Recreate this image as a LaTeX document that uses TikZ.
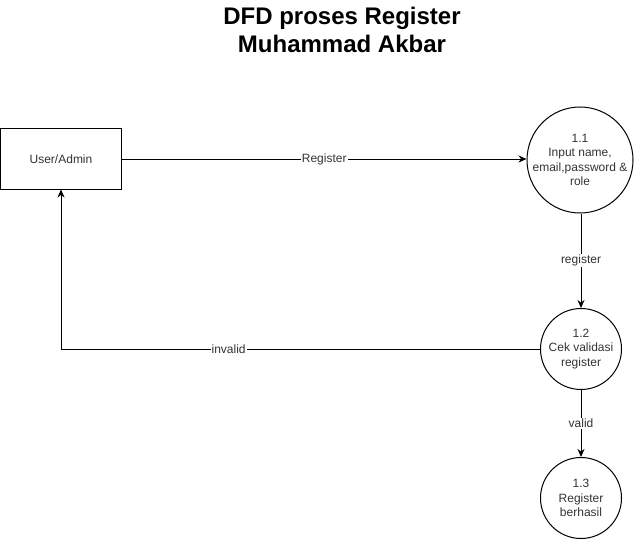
\documentclass[tikz,border=0pt]{standalone}
\usepackage{fontspec}
\setmainfont{Liberation Sans}
\usetikzlibrary{arrows.meta}

\begin{document}
\begin{tikzpicture}[
    x=1pt, y=-1pt,
    every node/.style={font=\fontsize{12}{14.5}\selectfont, text=black!80},
    entity/.style={draw, line width=1pt, minimum width=121pt, minimum height=60pt},
    process/.style={draw, circle, line width=1pt, inner sep=0pt},
    flow/.style={line width=1pt, -{Stealth[length=8pt,width=7pt]}},
    flowlabel/.style={fill=white, inner sep=1pt},
    ]
    \useasboundingbox (0,0) rectangle (636,540);

    \node[font=\fontsize{24}{28}\selectfont\bfseries, text=black, align=center] (title) at (342,30)
        {DFD proses Register\\Muhammad Akbar};

    \node[entity] (user) at (61,159) {User/Admin};
    \node[process, minimum size=106pt,
        label={[align=center]center:{1.1\\Input name,\\email,password \&\\role}}] (input) at (580,160) {};
    \node[process, minimum size=81pt,
        label={[align=center]center:{1.2\\Cek validasi\\register}}] (cek) at (581,349) {};
    \node[process, minimum size=81pt,
        label={[align=center]center:{1.3\\Register\\berhasil}}] (hasil) at (581,498) {};

    \draw[flow] (user.east) -- node[flowlabel, pos=0.5] {Register} (input.west |- user.east);
    \draw[flow] (input.south -| cek.north) -- node[flowlabel] {register} (cek.north);
    \draw[flow] (cek.west) -- node[flowlabel, pos=0.65] {invalid} (61,349) -- (user.south);
    \draw[flow] (cek.south) -- node[flowlabel] {valid} (hasil.north);
\end{tikzpicture}
\end{document}
